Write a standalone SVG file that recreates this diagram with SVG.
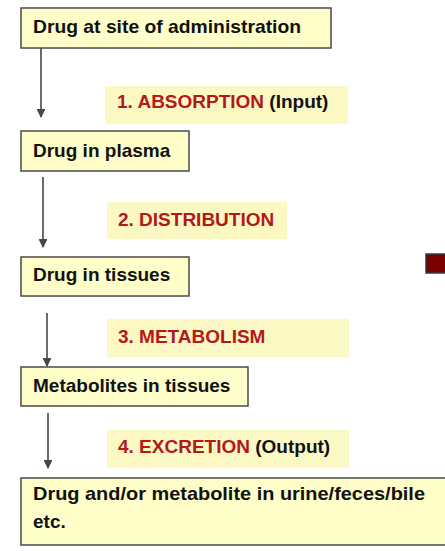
<svg xmlns="http://www.w3.org/2000/svg" width="445" height="551" viewBox="0 0 445 551">
<defs>
<style>
.box{fill:#fffdc8;stroke:#4a4a4a;stroke-width:1.5}
.lbl{fill:#fcf8c4}
.t{font-family:"Liberation Sans",Arial,sans-serif;font-weight:bold;font-size:19px;fill:#111}
.r{fill:#b3191b}
.conn{stroke:#444650;stroke-width:1.6;fill:none;marker-end:url(#ah)}
</style>
<marker id="ah" viewBox="0 0 10 10" refX="9" refY="5" markerWidth="5.5" markerHeight="5.5" markerUnits="strokeWidth" orient="auto">
<path d="M0,0 L10,5 L0,10 z" fill="#444650"/>
</marker>
</defs>
<rect width="445" height="551" fill="#ffffff"/>
<g id="connectors">
<line class="conn" x1="41" y1="48" x2="41" y2="117"/>
<line class="conn" x1="43" y1="177" x2="43" y2="247"/>
<line class="conn" x1="47" y1="313" x2="47" y2="366"/>
<line class="conn" x1="48" y1="413" x2="48" y2="468"/>
</g>
<g id="label1">
<rect class="lbl" x="105" y="86" width="243" height="38"/>
<text class="t" x="117" y="108"><tspan class="r">1. ABSORPTION</tspan> (Input)</text>
</g>
<g id="label2">
<rect class="lbl" x="107" y="202" width="180" height="37"/>
<text class="t r" x="118" y="226">2. DISTRIBUTION</text>
</g>
<g id="label3">
<rect class="lbl" x="107" y="319" width="242" height="38"/>
<text class="t r" x="118" y="343">3. METABOLISM</text>
</g>
<g id="label4">
<rect class="lbl" x="107" y="430" width="242" height="38"/>
<text class="t" x="118" y="453"><tspan class="r">4. EXCRETION</tspan> (Output)</text>
</g>
<g id="node1">
<rect class="box" x="21" y="8" width="310" height="40"/>
<text class="t" x="33" y="33" textLength="268" lengthAdjust="spacingAndGlyphs">Drug at site of administration</text>
</g>
<g id="node2">
<rect class="box" x="21" y="131" width="168" height="40"/>
<text class="t" x="33" y="157">Drug in plasma</text>
</g>
<g id="node3">
<rect class="box" x="21" y="257" width="168" height="39"/>
<text class="t" x="33" y="281">Drug in tissues</text>
</g>
<g id="node4">
<rect class="box" x="21" y="367" width="227" height="39"/>
<text class="t" x="33" y="392">Metabolites in tissues</text>
</g>
<g id="node5">
<rect class="box" x="21" y="478" width="430" height="67"/>
<text class="t" x="33" y="500" textLength="392" lengthAdjust="spacingAndGlyphs">Drug and/or metabolite in urine/feces/bile</text>
<text class="t" x="33" y="528">etc.</text>
</g>
<rect x="426" y="254" width="22" height="19" fill="#7a0000" stroke="#3a3a3a" stroke-width="1.5"/>
</svg>
